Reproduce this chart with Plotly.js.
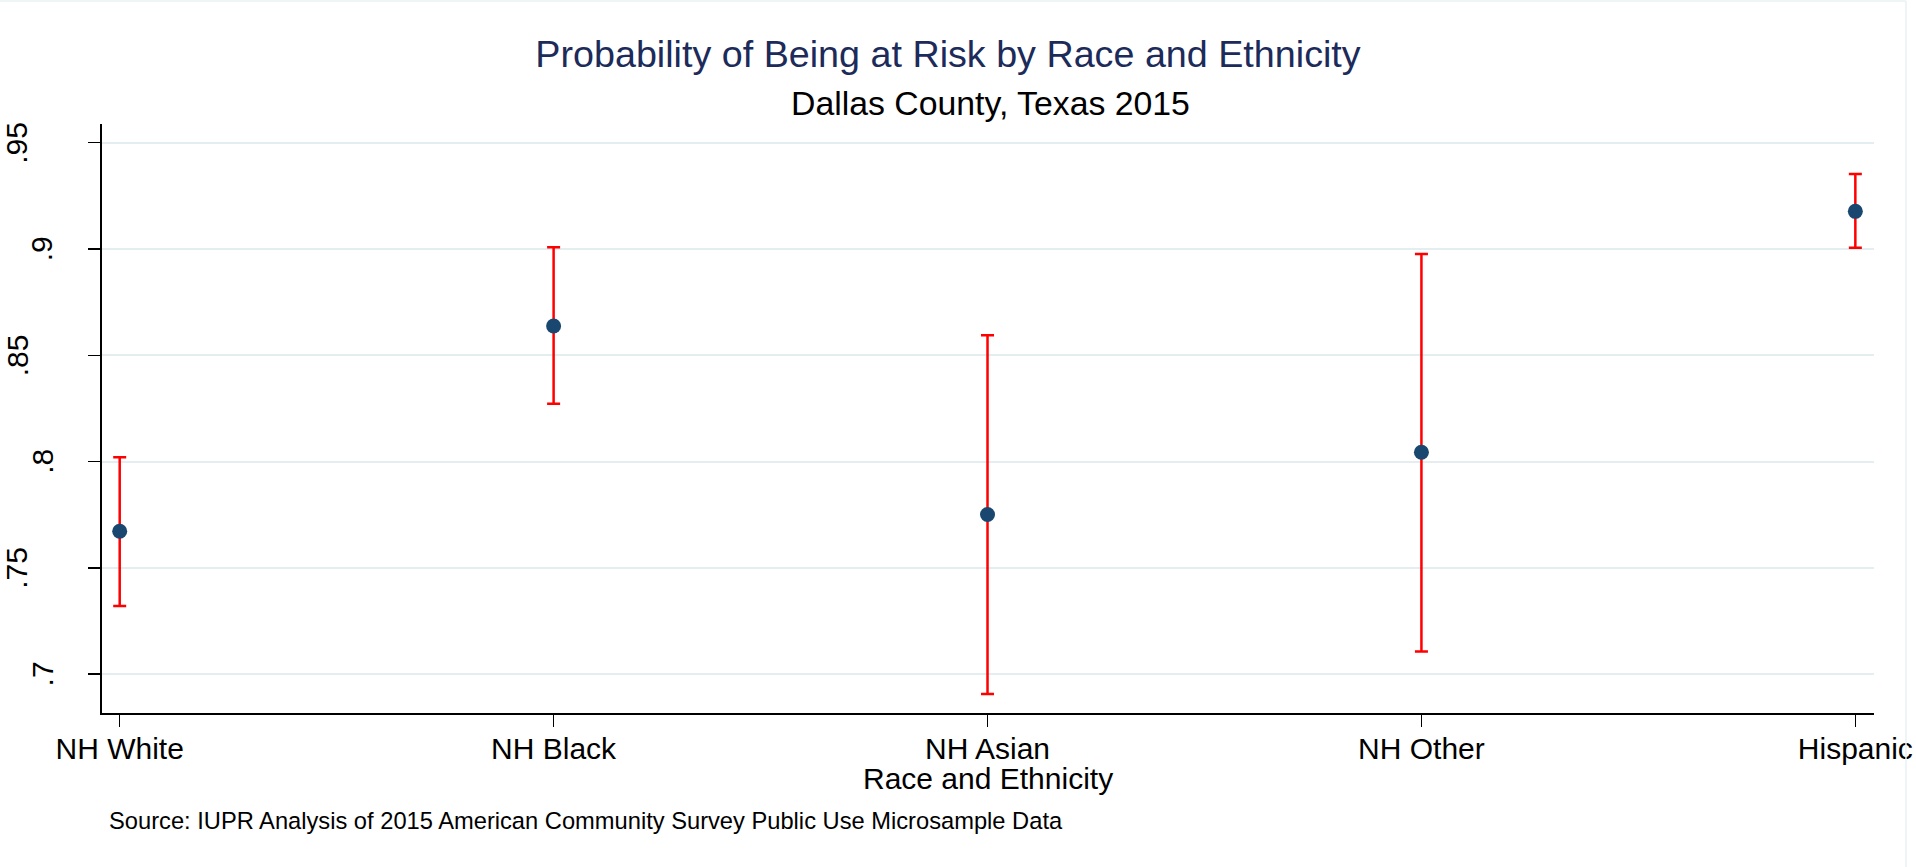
<!DOCTYPE html>
<html>
<head>
<meta charset="utf-8">
<script src="https://cdn.plot.ly/plotly-3.0.1.min.js"></script>
<style>
  html, body { margin: 0; padding: 0; background: #ffffff; }
  #chart { width: 1916px; height: 867px; }
</style>
</head>
<body>
<div id="chart"></div>
<script>
// ---- Data ----
const categories = ["NH White", "NH Black", "NH Asian", "NH Other", "Hispanic"];
const estimates  = [0.7672, 0.8638, 0.7751, 0.8044, 0.9177];
const ciLower    = [0.7320, 0.8272, 0.6906, 0.7106, 0.9006];
const ciUpper    = [0.8020, 0.9008, 0.8594, 0.8976, 0.9353];
const yTickVals  = [0.70, 0.75, 0.80, 0.85, 0.90, 0.95];
const yTickText  = [".7", ".75", ".8", ".85", ".9", ".95"];

const titleText    = "Probability of Being at Risk by Race and Ethnicity";
const subtitleText = "Dallas County, Texas 2015";
const xTitleText   = "Race and Ethnicity";
const sourceText   = "Source: IUPR Analysis of 2015 American Community Survey Public Use Microsample Data";

// ---- Layout geometry ----
const W = 1916, H = 867;
const M = { l: 102, r: 41.5, t: 124, b: 154 };
const plotW = W - M.l - M.r;
const plotH = H - M.t - M.b;
const pxX = px => (px - M.l) / plotW;          // page px -> paper x
const pxY = py => (H - M.b - py) / plotH;      // page px -> paper y

const FONT = "Liberation Sans, Arial, Helvetica, sans-serif";

const trace = {
  type: "scatter",
  mode: "markers",
  x: categories,
  y: estimates,
  marker: { color: "#1a476f", size: 15, line: { width: 0 } },
  error_y: {
    type: "data",
    symmetric: false,
    array: ciUpper.map((u, i) => u - estimates[i]),
    arrayminus: ciLower.map((lo, i) => estimates[i] - lo),
    color: "#ff0000",
    thickness: 2.5,
    width: 6.5
  },
  hoverinfo: "skip",
  showlegend: false
};

// y tick labels, rotated like the original
const yLabelAnnotations = yTickText.map((t, i) => ({
  xref: "paper", yref: "y",
  x: pxX(t.length <= 2 ? 42.3 : 17),
  y: yTickVals[i],
  xanchor: "center", yanchor: "middle",
  text: t, textangle: -90, showarrow: false,
  font: { family: FONT, size: 30, color: "#000000" }
}));

const layout = {
  width: W, height: H,
  margin: M,
  paper_bgcolor: "#ffffff",
  plot_bgcolor: "#ffffff",
  showlegend: false,
  font: { family: FONT, color: "#000000" },
  title: {
    text: titleText,
    font: { family: FONT, size: 37.7, color: "#1c2b5a" },
    xref: "container", x: 948 / W, xanchor: "center",
    yref: "container", y: 1 - 54.2 / H, yanchor: "middle"
  },
  xaxis: {
    type: "category",
    categoryarray: categories,
    range: [-0.0408, 4.043],
    showgrid: false, zeroline: false,
    showline: true, linecolor: "#000000", linewidth: 2,
    ticks: "outside", ticklen: 12, tickwidth: 1.5, tickcolor: "#000000",
    ticklabelstandoff: -4,
    tickfont: { family: FONT, size: 30, color: "#000000" },
    fixedrange: true
  },
  yaxis: {
    range: [0.6817, 0.9588],
    tickmode: "array",
    tickvals: yTickVals,
    ticktext: yTickText,
    showticklabels: false,
    showgrid: true, gridcolor: "#e4edf0", gridwidth: 2,
    zeroline: false,
    showline: true, linecolor: "#000000", linewidth: 2,
    ticks: "outside", ticklen: 12, tickwidth: 1.5, tickcolor: "#000000",
    fixedrange: true
  },
  annotations: [
    {
      xref: "paper", yref: "paper",
      x: pxX(991), y: pxY(102.5),
      xanchor: "center", yanchor: "middle",
      text: subtitleText, showarrow: false,
      font: { family: FONT, size: 33.8, color: "#000000" }
    },
    {
      xref: "paper", yref: "paper",
      x: 0.5, y: pxY(778.4),
      xanchor: "center", yanchor: "middle",
      text: xTitleText, showarrow: false,
      font: { family: FONT, size: 30, color: "#000000" }
    },
    {
      xref: "paper", yref: "paper",
      x: pxX(107.3), y: pxY(820.8),
      xanchor: "left", yanchor: "middle",
      text: sourceText, showarrow: false,
      font: { family: FONT, size: 23.7, color: "#000000" }
    }
  ].concat(yLabelAnnotations),
  shapes: [
    { type: "line", xref: "paper", yref: "paper",
      x0: pxX(1906.5), x1: pxX(1906.5), y0: pxY(1), y1: pxY(H),
      line: { color: "#eaf2f4", width: 1.5 } },
    { type: "line", xref: "paper", yref: "paper",
      x0: pxX(0), x1: pxX(1906.5), y0: pxY(1), y1: pxY(1),
      line: { color: "#eaf2f4", width: 1.5 } }
  ]
};

Plotly.newPlot("chart", [trace], layout, { displayModeBar: false, staticPlot: true });
</script>
</body>
</html>
